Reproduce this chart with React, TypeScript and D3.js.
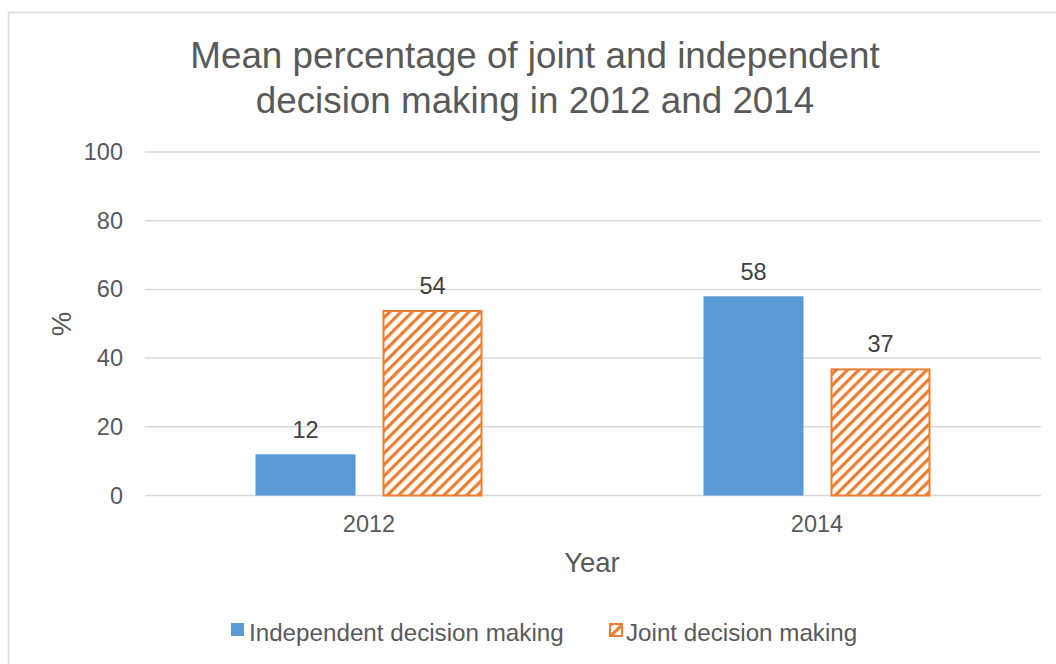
import React from "react";
import * as d3 from "d3";

const years = ["2012", "2014"];
const seriesNames = ["Independent decision making", "Joint decision making"];
const independentValues = [12, 58];
const jointValues = [54, 37];
const yTicks = [0, 20, 40, 60, 80, 100];
const titleLines = ["Mean percentage of joint and independent", "decision making in 2012 and 2014"];

const BLUE = "#5B9BD5";
const ORANGE = "#ED7D31";
const TEXT = "#595959";
const GRID = "#D9D9D9";
const FONT = "'Liberation Sans', Arial, sans-serif";

export default function App() {
  const x0 = d3.scaleBand<string>().domain(years).range([145, 1041]).paddingInner(0).paddingOuter(0);
  const x1 = d3
    .scaleBand<string>()
    .domain(seriesNames)
    .range([0, x0.bandwidth()])
    .paddingInner(0.2126)
    .paddingOuter(0.87);
  const y = d3.scaleLinear().domain([0, 100]).range([495.5, 152]);

  const seriesValues = [independentValues, jointValues];

  return (
    <svg
      width={1056}
      height={664}
      style={{ position: "absolute", left: 0, top: 0, overflow: "hidden", background: "#fff" }}
      fontFamily={FONT}
    >
      <defs>
        <pattern id="hatch" width={8} height={8} patternUnits="userSpaceOnUse" patternTransform="rotate(45)">
          <rect x={0} y={0} width={8} height={8} fill="#fff" />
          <rect x={0} y={0} width={3.2} height={8} fill={ORANGE} />
        </pattern>
      </defs>
      <rect x={8.5} y={12.5} width={1200} height={800} fill="#fff" stroke={GRID} strokeWidth={1.5} />

      {titleLines.map((t, i) => (
        <text key={i} x={535} y={68 + i * 45} textAnchor="middle" fontSize={36.8} fill={TEXT}>
          {t}
        </text>
      ))}

      {yTicks.map((t) => (
        <g key={t}>
          <line x1={145} x2={1041} y1={y(t)} y2={y(t)} stroke={GRID} strokeWidth={1.5} />
          <text x={123} y={y(t) + 8} textAnchor="end" fontSize={23.5} fill={TEXT}>
            {t}
          </text>
        </g>
      ))}

      {years.map((yr, i) => (
        <g key={yr} transform={`translate(${x0(yr)},0)`}>
          {seriesNames.map((s, j) => {
            const v = seriesValues[j][i];
            const bx = x1(s)!;
            const bw = x1.bandwidth();
            return (
              <g key={s}>
                {j === 0 ? (
                  <rect x={bx} y={y(v)} width={bw} height={y(0) - y(v)} fill={BLUE} />
                ) : (
                  <rect
                    x={bx + 1}
                    y={y(v) + 1}
                    width={bw - 2}
                    height={y(0) - y(v) - 1}
                    fill="url(#hatch)"
                    stroke={ORANGE}
                    strokeWidth={2}
                  />
                )}
                <text x={bx + bw / 2} y={y(v) - 16} textAnchor="middle" fontSize={23.5} fill="#404040">
                  {v}
                </text>
              </g>
            );
          })}
          <text x={x0.bandwidth() / 2} y={532} textAnchor="middle" fontSize={23.5} fill={TEXT}>
            {yr}
          </text>
        </g>
      ))}

      <text x={592} y={572} textAnchor="middle" fontSize={27.5} fill={TEXT}>
        Year
      </text>
      <text transform="translate(71,324) rotate(-90)" textAnchor="middle" fontSize={27.5} fill={TEXT}>
        %
      </text>

      <g>
        <rect x={231} y={623} width={13} height={13} fill={BLUE} />
        <text x={249} y={641} fontSize={24.2} fill={TEXT}>
          {seriesNames[0]}
        </text>
        <rect x={610} y={624} width={12} height={12} fill="url(#hatch)" stroke={ORANGE} strokeWidth={2} />
        <text x={626} y={641} fontSize={24.2} fill={TEXT}>
          {seriesNames[1]}
        </text>
      </g>
    </svg>
  );
}
